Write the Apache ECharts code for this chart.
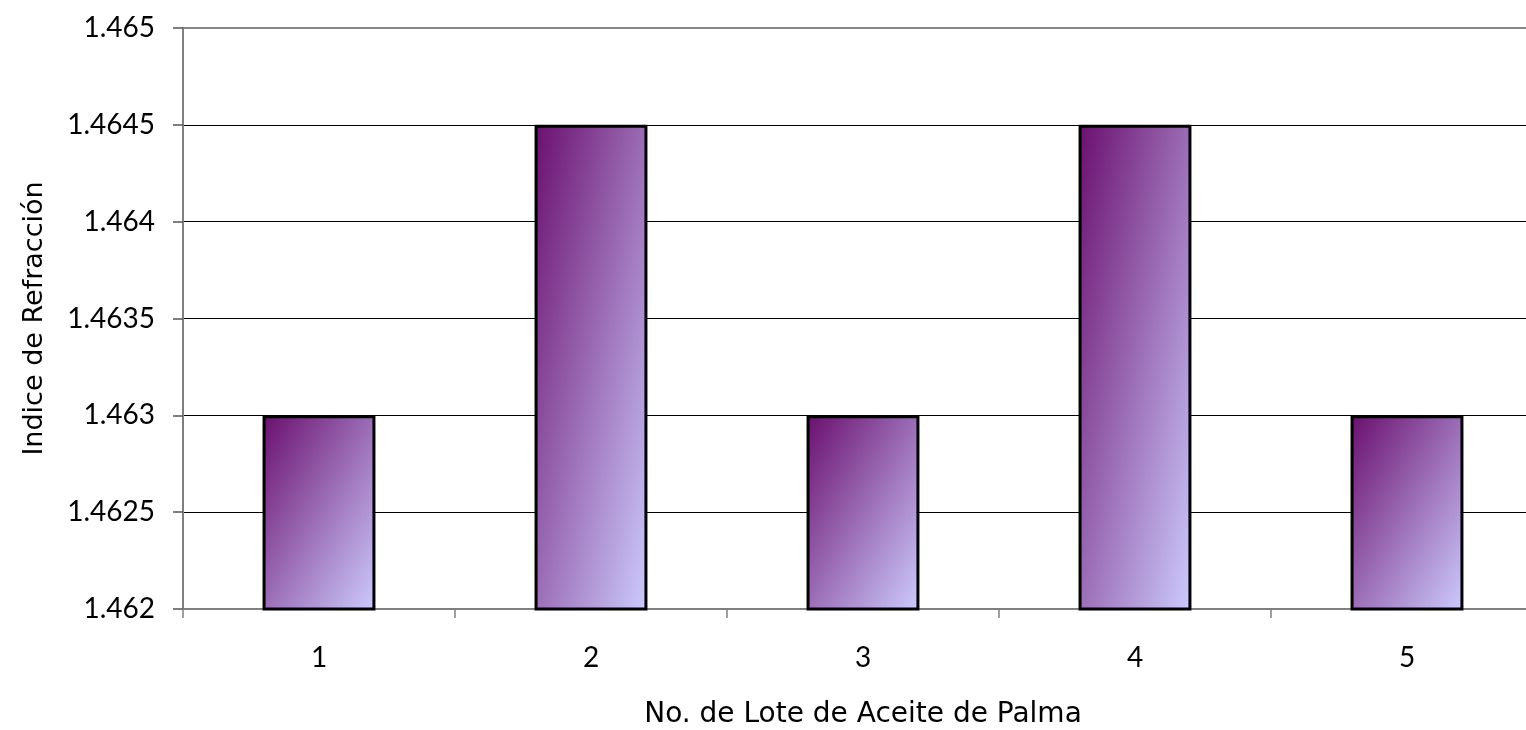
<!DOCTYPE html>
<html>
<head>
<meta charset="utf-8">
<script src="https://cdn.jsdelivr.net/npm/echarts@6/dist/echarts.min.js"></script>
<style>
  html, body { margin: 0; padding: 0; background: #fff; }
  #chart { width: 1526px; height: 730px; }
</style>
</head>
<body>
<div id="chart"></div>
<script>
// Refractive index per palm oil batch
const lotes = ['1', '2', '3', '4', '5'];
const indiceRefraccion = [1.463, 1.4645, 1.463, 1.4645, 1.463];
const yMin = 1.462;
const yMax = 1.465;
const yStep = 0.0005;

const chart = echarts.init(document.getElementById('chart'));
const TICK_FONT = 'Lato, "Open Sans", sans-serif';
const NAME_FONT = '"DejaVu Sans", "Open Sans", sans-serif';
const DARK = '#6a0f6e';
const LIGHT = '#cccbfd';
const barFraction = 0.415;

chart.setOption({
  animation: false,
  backgroundColor: '#ffffff',
  grid: {
    left: 183, top: 28, bottom: 121, right: -17,
    outerBoundsMode: 'none',
    containLabel: false,
    show: true, borderColor: '#888888', borderWidth: 2, backgroundColor: 'transparent'
  },
  xAxis: {
    type: 'category',
    data: lotes,
    name: 'No. de Lote de Aceite de Palma',
    nameLocation: 'middle',
    nameGap: 92,
    nameTextStyle: { fontFamily: NAME_FONT, fontSize: 28, color: '#000' },
    axisLine: { lineStyle: { color: '#808080', width: 2 } },
    axisTick: { show: true, length: 9, lineStyle: { color: '#808080', width: 1.5 } },
    axisLabel: { fontFamily: TICK_FONT, fontSize: 28, color: '#000', margin: 35 },
    splitLine: { show: false }
  },
  yAxis: {
    type: 'value',
    min: yMin, max: yMax, interval: yStep,
    name: 'Indice de Refracción',
    nameLocation: 'middle',
    nameGap: 135,
    nameRotate: 90,
    nameTextStyle: { fontFamily: NAME_FONT, fontSize: 27, color: '#000' },
    axisLine: { show: true, lineStyle: { color: '#808080', width: 2 } },
    axisTick: { show: true, length: 10, lineStyle: { color: '#555555', width: 1.5 } },
    axisLabel: {
      fontFamily: TICK_FONT, fontSize: 28, color: '#000', margin: 28,
      formatter: v => String(Math.round(v * 10000) / 10000)
    },
    splitLine: { show: true, showMaxLine: false, lineStyle: { color: '#000', width: 1 } }
  },
  series: [{
    type: 'bar',
    data: indiceRefraccion,
    barWidth: (barFraction * 100) + '%',
    itemStyle: { borderColor: '#000', borderWidth: 3, color: DARK }
  }]
});

// Diagonal shading: colour bands run parallel to each bar's
// top-right → bottom-left diagonal, dark in the top-left corner.
const x0 = chart.convertToPixel({ xAxisIndex: 0 }, lotes[0]);
const x1 = chart.convertToPixel({ xAxisIndex: 0 }, lotes[1]);
const barW = Math.abs(x1 - x0) * barFraction;
const yBase = chart.convertToPixel({ yAxisIndex: 0 }, yMin);
const shaded = indiceRefraccion.map(v => {
  const h = Math.abs(yBase - chart.convertToPixel({ yAxisIndex: 0 }, v));
  const w = barW;
  const d = h * h + w * w;
  return {
    value: v,
    itemStyle: {
      color: new echarts.graphic.LinearGradient(0, 0, 2 * h * h / d, 2 * w * w / d, [
        { offset: 0, color: DARK },
        { offset: 1, color: LIGHT }
      ])
    }
  };
});
chart.setOption({ series: [{ data: shaded }] });
</script>
</body>
</html>
